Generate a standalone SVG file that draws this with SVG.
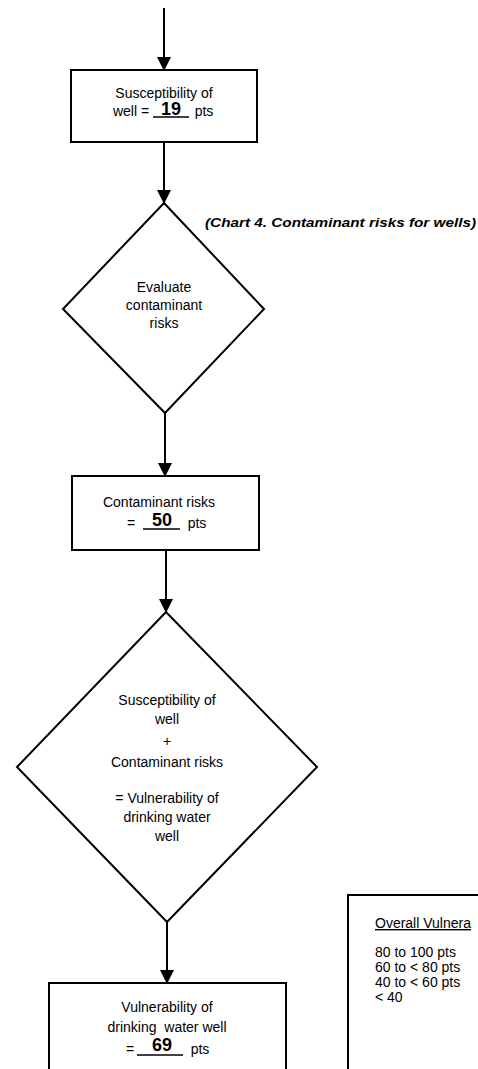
<svg xmlns="http://www.w3.org/2000/svg" width="478" height="1069" viewBox="0 0 478 1069">
  <style>
    .shape { fill: #ffffff; stroke: #000000; stroke-width: 2; }
    .edge { fill: none; stroke: #000000; stroke-width: 2; }
    .t { font-family: "Liberation Sans", Arial, sans-serif; font-size: 14px; fill: #000000; text-anchor: middle; }
    .num { font-family: "Liberation Sans", Arial, sans-serif; font-size: 18px; font-weight: bold; fill: #000000; text-anchor: middle; }
    .blank { stroke: #000000; stroke-width: 1.3; }
    .note { font-family: "Liberation Sans", Arial, sans-serif; font-size: 13px; font-weight: bold; font-style: italic; fill: #000000; }
    .legend { font-family: "Liberation Sans", Arial, sans-serif; font-size: 14px; fill: #000000; }
  </style>
  <defs>
    <marker id="arrow" markerUnits="userSpaceOnUse" markerWidth="14" markerHeight="14" refX="13" refY="7" orient="auto">
      <path d="M0,0 L14,7 L0,14 Z" fill="#000000"/>
    </marker>
  </defs>

  <!-- connectors -->
  <g id="connectors">
    <line class="edge" x1="164" y1="8" x2="164" y2="70" marker-end="url(#arrow)"/>
    <line class="edge" x1="164" y1="142" x2="164" y2="203" marker-end="url(#arrow)"/>
    <line class="edge" x1="165" y1="413" x2="165" y2="476" marker-end="url(#arrow)"/>
    <line class="edge" x1="166" y1="550" x2="166" y2="612" marker-end="url(#arrow)"/>
    <line class="edge" x1="167" y1="922" x2="167" y2="983" marker-end="url(#arrow)"/>
  </g>

  <!-- susceptibility box -->
  <g id="susceptibility">
    <rect class="shape" x="71" y="70" width="186" height="72"/>
    <text class="t" x="164" y="98">Susceptibility of</text>
    <text class="t" x="131" y="116">well =</text>
    <line class="blank" x1="153" y1="117" x2="189" y2="117"/>
    <text class="num" x="171" y="115">19</text>
    <text class="t" x="204" y="116">pts</text>
  </g>

  <!-- evaluate decision -->
  <g id="evaluate">
    <polygon class="shape" points="164,203 264,309 165,413 63,309"/>
    <text class="t" x="164" y="292">Evaluate</text>
    <text class="t" x="164" y="310">contaminant</text>
    <text class="t" x="164" y="328">risks</text>
  </g>

  <!-- chart reference note -->
  <g id="chart-note">
    <text class="note" x="205" y="227" textLength="271" lengthAdjust="spacingAndGlyphs">(Chart 4. Contaminant risks for wells)</text>
  </g>

  <!-- contaminant risks box -->
  <g id="contaminant">
    <rect class="shape" x="72" y="476" width="187" height="74"/>
    <text class="t" x="159" y="507">Contaminant risks</text>
    <text class="t" x="131" y="528">=</text>
    <line class="blank" x1="143" y1="529" x2="180" y2="529"/>
    <text class="num" x="162" y="526">50</text>
    <text class="t" x="197" y="528">pts</text>
  </g>

  <!-- sum decision -->
  <g id="sum">
    <polygon class="shape" points="166,612 317,767 167,922 17,767"/>
    <text class="t" x="167" y="705">Susceptibility of</text>
    <text class="t" x="167" y="724">well</text>
    <text class="t" x="167" y="746">+</text>
    <text class="t" x="167" y="767">Contaminant risks</text>
    <text class="t" x="167" y="803">= Vulnerability of</text>
    <text class="t" x="167" y="822">drinking water</text>
    <text class="t" x="167" y="841">well</text>
  </g>

  <!-- vulnerability box -->
  <g id="vulnerability">
    <rect class="shape" x="49" y="983" width="237" height="100"/>
    <text class="t" x="167" y="1012">Vulnerability of</text>
    <text class="t" x="167" y="1032" xml:space="preserve">drinking  water well</text>
    <text class="t" x="130" y="1054">=</text>
    <line class="blank" x1="137" y1="1055" x2="183" y2="1055"/>
    <text class="num" x="162" y="1051">69</text>
    <text class="t" x="200" y="1054">pts</text>
  </g>

  <!-- rating legend -->
  <g id="legend">
    <rect class="shape" x="348" y="895" width="150" height="190"/>
    <text class="legend" x="375" y="928" text-decoration="underline">Overall Vulnera</text>
    <text class="legend" x="375" y="957">80 to 100 pts</text>
    <text class="legend" x="375" y="972">60 to &lt; 80 pts</text>
    <text class="legend" x="375" y="987">40 to &lt; 60 pts</text>
    <text class="legend" x="375" y="1002">&lt; 40</text>
  </g>
</svg>
